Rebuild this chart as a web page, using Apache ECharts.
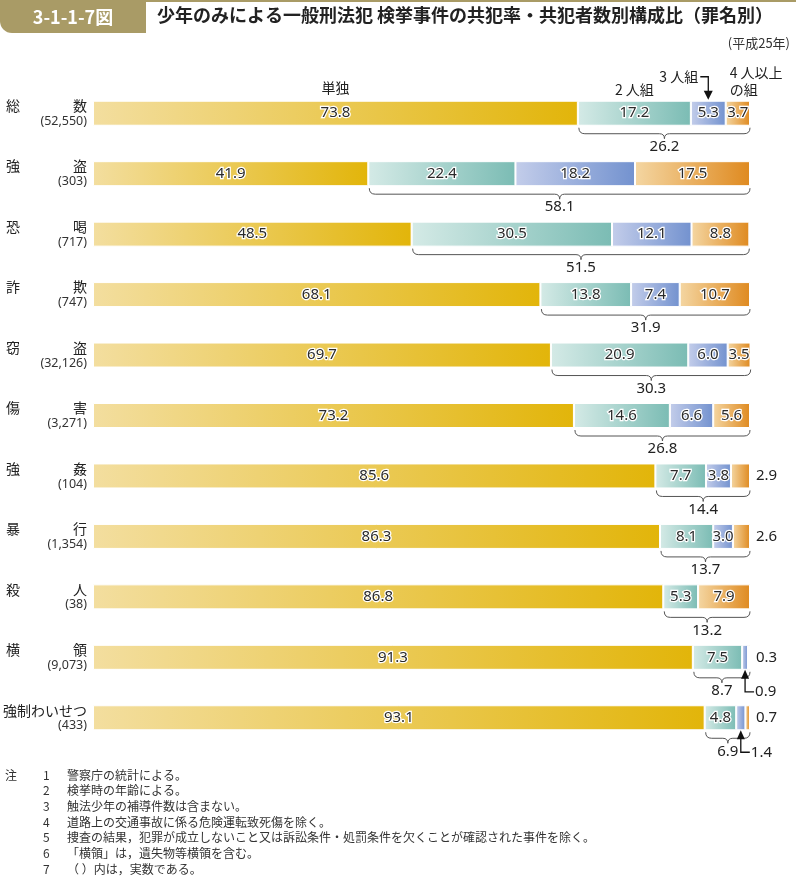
<!DOCTYPE html>
<html><head><meta charset="utf-8">
<script src="https://cdn.jsdelivr.net/npm/echarts@6/dist/echarts.min.js"></script>
<style>html,body{margin:0;padding:0;background:#fff}#c{width:796px;height:885px}</style>
</head><body><div id="c"></div>
<script>
const categories = ['総数','強盗','恐喝','詐欺','窃盗','傷害','強姦','暴行','殺人','横領','強制わいせつ'];
const counts = ['52,550','303','717','747','32,126','3,271','104','1,354','38','9,073','433'];
const solo = [73.8,41.9,48.5,68.1,69.7,73.2,85.6,86.3,86.8,91.3,93.1];
const pair = [17.2,22.4,30.5,13.8,20.9,14.6,7.7,8.1,5.3,7.5,4.8];
const trio = [5.3,18.2,12.1,7.4,6.0,6.6,3.8,3.0,0,0.9,1.4];
const group4 = [3.7,17.5,8.8,10.7,3.5,5.6,2.9,2.6,7.9,0.3,0.7];
const coTotal = [26.2,58.1,51.5,31.9,30.3,26.8,14.4,13.7,13.2,8.7,6.9];
const seriesNames = ['単独','2人組','3人組','4人以上の組'];
const titleText = '少年のみによる一般刑法犯 検挙事件の共犯率・共犯者数別構成比（罪名別）';
const figNo = '3-1-1-7図';
const yearText = '(平成25年)';
const notes = [
  ['注','1','警察庁の統計による。'],
  ['','2','検挙時の年齢による。'],
  ['','3','触法少年の補導件数は含まない。'],
  ['','4','道路上の交通事故に係る危険運転致死傷を除く。'],
  ['','5','捜査の結果，犯罪が成立しないこと又は訴訟条件・処罰条件を欠くことが確認された事件を除く。'],
  ['','6','「横領」は，遺失物等横領を含む。'],
  ['','7','（ ）内は，実数である。']
];

const JP = '"Noto Sans CJK JP", "Noto Sans", sans-serif';
const NUM = '"Noto Sans", "Noto Sans CJK JP", sans-serif';
const grads = [
  ['#f3de9f','#e2b50a'],
  ['#d4eae6','#7bbcb4'],
  ['#c3cdea','#7392cf'],
  ['#f4d6a2','#df8a20']
];
function grad(c){ return new echarts.graphic.LinearGradient(0,0,1,0,[{offset:0,color:c[0]},{offset:1,color:c[1]}]); }
const BAR_W = 25;
const valueSets = [solo, pair, trio, group4];

const barSeries = valueSets.map((vals, k) => ({
  name: seriesNames[k], type: 'bar', stack: 'all', barWidth: BAR_W,
  data: vals,
  itemStyle: { color: grad(grads[k]), borderColor: '#fff', borderWidth: 1 },
  label: {
    show: true, position: 'inside',
    formatter: p => (p.value >= 3 ? p.value.toFixed(1) : ''),
    fontFamily: NUM, fontSize: 15, color: '#2a2a2a',
    textBorderColor: '#fff', textBorderWidth: 2.5
  },
  emphasis: { disabled: true }
}));

function renderAnno(params, api) {
  const i = params.dataIndex;
  const children = [];
  const half = BAR_W / 2;
  const c0 = api.coord([solo[i], i]);
  const yc = c0[1];
  const yb = yc + half, yt = yc - half;
  const xEnd = api.coord([solo[i] + pair[i] + trio[i] + group4[i], i])[0];
  const x1 = c0[0] + 1, x2 = xEnd;
  const xc = (x1 + x2) / 2;
  const y0 = yb + 2;
  children.push({ type: 'path', shape: { pathData:
    `M${x1} ${y0} Q${x1} ${y0+6} ${x1+6} ${y0+6} L${xc-5} ${y0+6} Q${xc} ${y0+6} ${xc} ${y0+11} Q${xc} ${y0+6} ${xc+5} ${y0+6} L${x2-6} ${y0+6} Q${x2} ${y0+6} ${x2} ${y0}` },
    style: { stroke: '#555', lineWidth: 1, fill: null } });
  children.push({ type: 'text', style: { text: coTotal[i].toFixed(1), x: xc, y: yb + 21, align: 'center', verticalAlign: 'middle', fontFamily: NUM, fontSize: 15, fill: '#222' } });
  if (group4[i] > 0 && group4[i] < 3) {
    children.push({ type: 'text', style: { text: group4[i].toFixed(1), x: xEnd + 6, y: yc, align: 'left', verticalAlign: 'middle', fontFamily: NUM, fontSize: 15, fill: '#222' } });
  }
  if (trio[i] > 0 && trio[i] < 3) {
    const xm = api.coord([solo[i] + pair[i] + trio[i] / 2, i])[0];
    children.push({ type: 'polygon', shape: { points: [[xm, yb], [xm - 4, yb + 9], [xm + 4, yb + 9]] }, style: { fill: '#111' } });
    children.push({ type: 'polyline', shape: { points: [[xm, yb + 8], [xm, yb + 22], [xm + 9, yb + 22]] }, style: { stroke: '#111', lineWidth: 1.3, fill: null } });
    children.push({ type: 'text', style: { text: trio[i].toFixed(1), x: xm + 10, y: yb + 22, align: 'left', verticalAlign: 'middle', fontFamily: NUM, fontSize: 15, fill: '#222' } });
  }
  if (i === 0) {
    const xs0 = api.coord([0, i])[0];
    const xs1 = c0[0];
    const xp1 = api.coord([solo[i] + pair[i], i])[0];
    const xt1 = api.coord([solo[i] + pair[i] + trio[i], i])[0];
    const xtm = (xp1 + xt1) / 2;
    const f = { fontFamily: JP, fontSize: 14, fill: '#222', verticalAlign: 'middle' };
    children.push({ type: 'text', style: Object.assign({ text: seriesNames[0], x: (xs0 + xs1) / 2, y: yt - 13, align: 'center' }, f) });
    children.push({ type: 'text', style: Object.assign({ text: '2 人組', x: (xs1 + xp1) / 2, y: yt - 11, align: 'center' }, f) });
    children.push({ type: 'text', style: Object.assign({ text: '3 人組', x: xtm - 10, y: yt - 24, align: 'right' }, f) });
    children.push({ type: 'polyline', shape: { points: [[xtm - 8, yt - 24], [xtm, yt - 24], [xtm, yt - 9]] }, style: { stroke: '#111', lineWidth: 1.3, fill: null } });
    children.push({ type: 'polygon', shape: { points: [[xtm, yt - 1], [xtm - 4.5, yt - 10], [xtm + 4.5, yt - 10]] }, style: { fill: '#111' } });
    children.push({ type: 'text', style: Object.assign({ text: '4 人以上', x: xt1 + 4, y: yt - 28, align: 'left' }, f) });
    children.push({ type: 'text', style: Object.assign({ text: 'の組', x: xt1 + 4, y: yt - 11, align: 'left' }, f) });
  }
  return { type: 'group', children };
}

const noteGraphics = [];
notes.forEach((n, k) => {
  const y = 777 + k * 15.7;
  if (n[0]) noteGraphics.push({ type: 'text', left: 5, top: y - 8, style: { text: n[0], fontFamily: JP, fontSize: 12, fill: '#333' } });
  noteGraphics.push({ type: 'text', left: 43, top: y - 8, style: { text: n[1], fontFamily: JP, fontSize: 12, fill: '#333' } });
  noteGraphics.push({ type: 'text', left: 67, top: y - 8, style: { text: n[2], fontFamily: JP, fontSize: 12, fill: '#333' } });
});

const chart = echarts.init(document.getElementById('c'), null, { renderer: 'canvas' });
chart.setOption({
  animation: false,
  backgroundColor: '#fff',
  grid: { left: 92, right: 46, top: 83, height: 665, containLabel: false },
  xAxis: { type: 'value', min: 0, max: 100, show: false },
  yAxis: {
    type: 'category', data: categories, inverse: true,
    axisLine: { show: false }, axisTick: { show: false }, splitLine: { show: false },
    axisLabel: {
      margin: 6,
      formatter: (v, idx) => {
        const cnt = '(' + counts[idx] + ')';
        if (v.length === 2) return '{a|' + v[0] + '}{b|' + v[1] + '}\n{c|' + cnt + '}';
        return '{d|' + v + '}\n{c|' + cnt + '}';
      },
      rich: {
        a: { width: 66, align: 'left', fontSize: 14, fontFamily: JP, color: '#222', lineHeight: 16 },
        b: { width: 15, align: 'right', fontSize: 14, fontFamily: JP, color: '#222', lineHeight: 16 },
        d: { width: 81, align: 'right', fontSize: 14, fontFamily: JP, color: '#222', lineHeight: 16 },
        c: { width: 81, align: 'right', fontSize: 12.5, fontFamily: NUM, color: '#333', lineHeight: 15 }
      }
    }
  },
  series: [
    ...barSeries,
    { type: 'custom', name: 'anno', coordinateSystem: 'cartesian2d', clip: false, silent: true, z: 5,
      data: categories.map((c, i) => [0, i]), renderItem: renderAnno }
  ],
  graphic: [
    { type: 'rect', left: 145, top: 0, shape: { width: 651, height: 2 }, style: { fill: '#a99b66' } },
    { type: 'rect', left: 0, top: 0, shape: { width: 146, height: 33, r: [0, 0, 0, 12] }, style: { fill: '#a99b66' } },
    { type: 'text', x: 73, y: 17, style: { text: figNo, fontFamily: JP, fontSize: 18, fontWeight: 'bold', fill: '#fff', align: 'center', verticalAlign: 'middle' } },
    { type: 'text', left: 157, top: 6, style: { text: titleText, fontFamily: JP, fontSize: 18, fontWeight: 'bold', fill: '#222' } },
    { type: 'text', right: 6, top: 37, style: { text: yearText, fontFamily: JP, fontSize: 13, fill: '#333' } },
    ...noteGraphics
  ]
});
</script></body></html>
